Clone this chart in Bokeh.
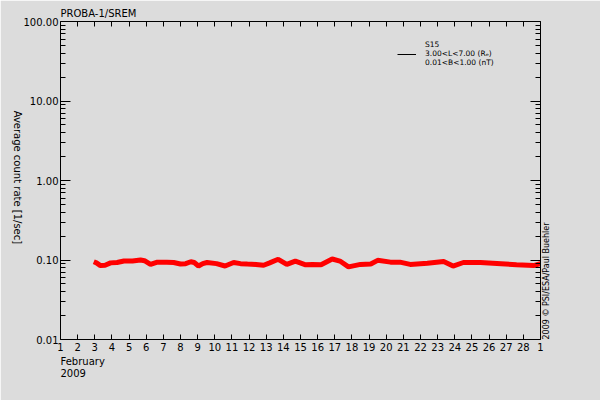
import numpy as np
from bokeh.plotting import figure
from bokeh.models import (Range1d, FixedTicker, LinearAxis, LogAxis, Title,
                          PrintfTickFormatter, Legend, LegendItem)
from bokeh.embed import file_html
from bokeh.resources import INLINE

# S15 average count rate, February 2009 (day of month, 1/sec)
days = [2.94, 3.1, 3.33, 3.6, 3.92, 4.3, 4.7, 5.2, 5.67, 5.9, 6.25, 6.65, 7.2, 7.6,
        8.0, 8.3, 8.6, 8.8, 9.05, 9.3, 9.55, 10.1, 10.6, 11.1, 11.5, 11.9, 12.4,
        12.85, 13.2, 13.7, 14.2, 14.7, 15.3, 15.7, 16.2, 16.85, 17.3, 17.8, 18.5,
        19.1, 19.5, 20.25, 20.8, 21.4, 22.4, 23.35, 23.9, 24.5, 25.5, 26.7, 27.6,
        28.6, 29.0]
rate = [0.095, 0.092, 0.085, 0.086, 0.092, 0.093, 0.097, 0.097, 0.100, 0.098, 0.088,
        0.094, 0.094, 0.093, 0.089, 0.090, 0.095, 0.093, 0.084, 0.090, 0.093, 0.090,
        0.084, 0.093, 0.090, 0.089, 0.088, 0.086, 0.092, 0.102, 0.088, 0.097, 0.087,
        0.088, 0.087, 0.103, 0.097, 0.082, 0.088, 0.089, 0.099, 0.094, 0.094, 0.088,
        0.091, 0.096, 0.084, 0.093, 0.093, 0.090, 0.087, 0.085, 0.090]

x_ticks = list(range(1, 30))
x_tick_labels = {29: "1"}
y_ticks = [0.01, 0.1, 1, 10, 100]
legend_text = "S15\n3.00<L<7.00 (R\u2091)\n0.01<B<1.00 (nT)"

BG = "#dcdcdc"
FONT = "DejaVu Sans"

p = figure(width=600, height=400, y_axis_type="log",
           x_range=Range1d(1, 29), y_range=Range1d(0.01, 100),
           output_backend="svg", toolbar_location=None,
           min_border_left=60, min_border_right=60,
           min_border_top=21, min_border_bottom=61)
p.background_fill_color = BG
p.border_fill_color = BG
p.outline_line_color = None
p.grid.visible = False

p.title.text = "PROBA-1/SREM"
p.title.align = "left"
p.title.text_font = FONT
p.title.text_font_size = "10px"
p.title.text_font_style = "normal"
p.title.text_color = "black"
p.title.standoff = 6

minor = [m * 10.0 ** e for e in range(-2, 2) for m in range(2, 10)]
yticker = FixedTicker(ticks=y_ticks, minor_ticks=minor)
xticker = FixedTicker(ticks=x_ticks)


def style(ax, major, minor_len, labels):
    ax.axis_line_color = "black"
    ax.major_tick_line_color = "black"
    ax.major_tick_in = major
    ax.major_tick_out = 0
    ax.minor_tick_in = minor_len
    ax.minor_tick_out = 0
    ax.minor_tick_line_color = "black" if minor_len else None
    ax.major_label_text_font = FONT
    ax.axis_label_text_font = FONT
    ax.axis_label_text_font_style = "normal"
    ax.axis_label_text_color = "black"
    if labels:
        ax.major_label_text_font_size = "10px"
        ax.major_label_text_color = "black"
    else:
        ax.major_label_text_font_size = "1px"
        ax.major_label_text_color = None
        ax.major_label_standoff = 0


yl = p.yaxis[0]
yl.ticker = yticker
yl.formatter = PrintfTickFormatter(format="%.2f")
yl.major_label_standoff = 2
style(yl, 10, 5, True)
# trailing no-break spaces lift the label off the bottom-anchored end
yl.axis_label = "Average count rate [1/sec]" + "\u00a0" * 30
yl.axis_label_text_font_size = "10px"
yl.axis_label_standoff = 3

xb = p.xaxis[0]
xb.ticker = xticker
xb.major_label_overrides = x_tick_labels
xb.major_label_standoff = 3
style(xb, 5, 0, True)

yr = LogAxis(ticker=yticker)
style(yr, 10, 5, False)
yr.axis_label = "2009 \u00a9 PSI/ESA/Paul Buehler"
yr.axis_label_text_font_size = "8px"
yr.axis_label_standoff = 6
p.add_layout(yr, "right")

try:
    yl.axis_label_orientation = -np.pi / 2
    yr.axis_label_orientation = np.pi / 2
    yl.axis_label_align = "start"
    yr.axis_label_align = "start"
except Exception:
    pass

xt = LinearAxis(ticker=xticker)
style(xt, 5, 0, False)
p.add_layout(xt, "above")

for txt in ["February", "2009"]:
    p.add_layout(Title(text=txt, align="left", text_font=FONT, text_font_size="10px",
                       text_font_style="normal", text_color="black", standoff=0),
                 "below")

p.line(days, rate, color="#ff0000", line_width=5)

# legend sample
r_leg = p.line([1], [1], color="black", line_width=1, visible=False)
leg = Legend(items=[LegendItem(label=legend_text, renderers=[r_leg])],
             location=(337, 272), background_fill_alpha=0, border_line_color=None,
             label_text_font=FONT, label_text_font_size="7.5px",
             label_text_color="black", label_text_line_height=0.6,
             glyph_width=19, glyph_height=8, padding=0, margin=0,
             label_standoff=9, label_height=8)
p.add_layout(leg, "center")

open("out.html", "w").write(file_html(p, INLINE))
